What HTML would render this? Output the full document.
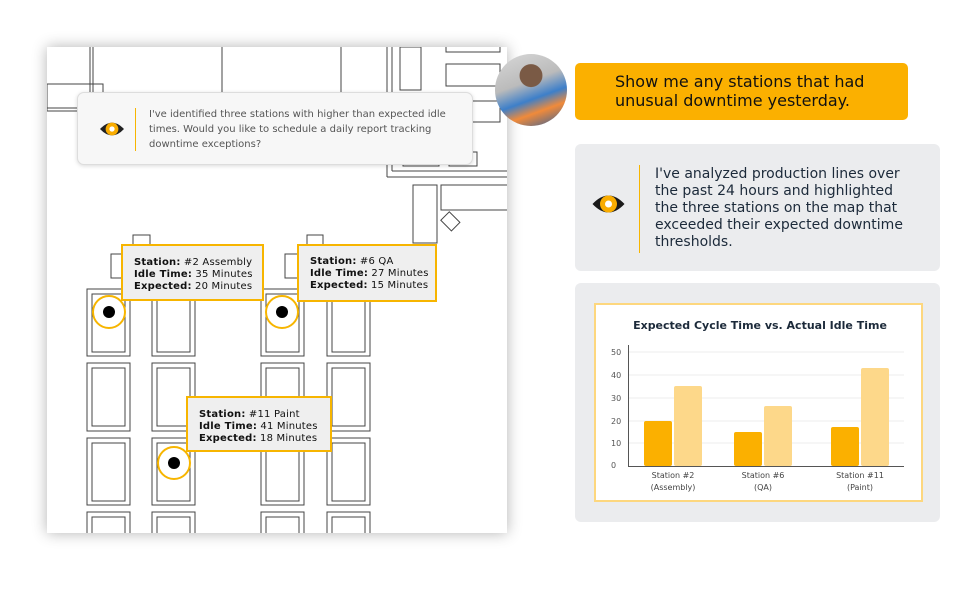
<!DOCTYPE html>
<html><head><meta charset="utf-8"><style>
body{margin:0;width:979px;height:592px;background:#fff;position:relative;overflow:hidden;font-family:"DejaVu Sans","Liberation Sans",sans-serif}
.abs{position:absolute}
.tip{position:absolute;background:#efefef;border:2px solid #f7b500;font-size:10px;line-height:12px;color:#111;padding:11px 0 0 11px;box-sizing:border-box;letter-spacing:0.2px}
.tip b{font-weight:bold}
</style></head><body>
<div class="abs" style="left:47px;top:47px;width:460px;height:486px;background:#fff;box-shadow:0 0 14px rgba(0,0,0,0.3)"></div>
<svg class="abs" style="left:0;top:0" width="979" height="592" viewBox="0 0 979 592">
<defs><clipPath id="c"><rect x="47" y="47" width="460" height="486"/></clipPath></defs>
<g clip-path="url(#c)" fill="none" stroke="#444" stroke-width="1">
<rect x="47" y="84" width="56" height="27"/><line x1="47" y1="108" x2="103" y2="108"/>
<line x1="90" y1="47" x2="90" y2="100"/><line x1="93" y1="47" x2="93" y2="100"/>
<line x1="222" y1="47" x2="222" y2="95"/><line x1="341" y1="47" x2="341" y2="95"/>
<line x1="387" y1="47" x2="387" y2="177"/><line x1="392" y1="47" x2="392" y2="171"/>
<line x1="387" y1="177" x2="507" y2="177"/><line x1="392" y1="171" x2="507" y2="171"/>
<rect x="400" y="47" width="21" height="43"/>
<rect x="446" y="44" width="54" height="8"/><rect x="446" y="64" width="54" height="22"/><rect x="446" y="101" width="54" height="21"/>
<rect x="403" y="150" width="36" height="16"/><rect x="449" y="152" width="28" height="14"/>
<rect x="413" y="185" width="24" height="58"/><rect x="441" y="185" width="70" height="25"/>
<rect x="443" y="215" width="15" height="12" transform="rotate(45 450 221)"/>
<rect x="133" y="235" width="17" height="14"/><rect x="307" y="235" width="16" height="14"/>
<rect x="111" y="254" width="19" height="24"/><rect x="285" y="254" width="16" height="24"/>
<g id="col">
<rect x="87" y="289" width="43" height="67"/><rect x="92" y="294" width="33" height="58"/>
<rect x="87" y="363" width="43" height="68"/><rect x="92" y="368" width="33" height="58"/>
<rect x="87" y="438" width="43" height="67"/><rect x="92" y="443" width="33" height="58"/>
<rect x="87" y="512" width="43" height="40"/><rect x="92" y="517" width="33" height="40"/>
</g>
<use href="#col" x="65"/><use href="#col" x="174"/><use href="#col" x="240"/>
</g>
<g fill="#fff" stroke="#f7b500" stroke-width="2"><circle cx="109" cy="312" r="16"/><circle cx="282" cy="312" r="16"/><circle cx="174" cy="463" r="16"/></g>
<g fill="#000"><circle cx="109" cy="312" r="6"/><circle cx="282" cy="312" r="6"/><circle cx="174" cy="463" r="6"/></g>
</svg>
<div class="abs" style="left:77px;top:92px;width:396px;height:73px;background:#f7f7f7;border:1px solid #ddd;border-radius:7px;box-shadow:0 1px 4px rgba(0,0,0,0.15);box-sizing:border-box"></div>
<svg class="abs" style="left:100px;top:118px" width="24" height="22" viewBox="0 0 32 22"><path d="M0 11 Q16 -6 32 11 Q16 28 0 11Z" fill="#222"/><circle cx="16" cy="11" r="8.5" fill="#f9ac00"/><circle cx="16" cy="11" r="3.5" fill="#fff"/></svg>
<div class="abs" style="left:135px;top:108px;width:1px;height:43px;background:#f7b500"></div>
<div class="abs" style="left:149px;top:107px;width:320px;font-size:10px;line-height:15px;color:#555">I've identified three stations with higher than expected idle times. Would you like to schedule a daily report tracking downtime exceptions?</div>
<div class="tip" style="left:121px;top:244px;width:143px;height:57px"><b>Station:</b> #2 Assembly<br><b>Idle Time:</b> 35 Minutes<br><b>Expected:</b> 20 Minutes</div>
<div class="tip" style="left:297px;top:244px;width:140px;height:58px;padding-top:10px"><b>Station:</b> #6 QA<br><b>Idle Time:</b> 27 Minutes<br><b>Expected:</b> 15 Minutes</div>
<div class="tip" style="left:186px;top:396px;width:146px;height:56px"><b>Station:</b> #11 Paint<br><b>Idle Time:</b> 41 Minutes<br><b>Expected:</b> 18 Minutes</div>
<div class="abs" style="left:495px;top:54px;width:72px;height:72px;border-radius:50%;background:radial-gradient(circle at 50% 30%,#7a5a45 0 18%,transparent 19%),linear-gradient(160deg,#d8d8d8 0%,#bbb 40%,#3d7fc9 60%,#f08a3a 75%,#2b5fa0 100%)"></div>
<div class="abs" style="left:575px;top:63px;width:333px;height:57px;background:#fbb000;border-radius:5px"></div>
<div class="abs" style="left:615px;top:72px;font-size:16px;line-height:19px;color:#111">Show me any stations that had<br>unusual downtime yesterday.</div>
<div class="abs" style="left:575px;top:144px;width:365px;height:127px;background:#ebecee;border-radius:6px"></div>
<svg class="abs" style="left:592px;top:193px" width="33" height="22" viewBox="0 0 32 22"><path d="M0 11 Q16 -6 32 11 Q16 28 0 11Z" fill="#1a1a1a"/><circle cx="16" cy="11" r="8.5" fill="#f9ac00"/><circle cx="16" cy="11" r="3.5" fill="#fff"/></svg>
<div class="abs" style="left:639px;top:165px;width:1px;height:88px;background:#f7b500"></div>
<div class="abs" style="left:655px;top:166px;font-size:14px;line-height:17px;color:#1c2a3a">I've analyzed production lines over<br>the past 24 hours and highlighted<br>the three stations on the map that<br>exceeded their expected downtime<br>thresholds.</div>
<div class="abs" style="left:575px;top:283px;width:365px;height:239px;background:#ebecee;border-radius:6px"></div>
<div class="abs" style="left:594px;top:303px;width:329px;height:199px;background:#fff;border:2px solid #fdd77e;box-sizing:border-box"></div>
<svg class="abs" style="left:0;top:0" width="979" height="592" viewBox="0 0 979 592" font-family="DejaVu Sans,sans-serif">
<text x="760" y="329" text-anchor="middle" font-size="11" font-weight="bold" fill="#1c2a3a">Expected Cycle Time vs. Actual Idle Time</text>
<g stroke="#eee"><line x1="628" x2="904" y1="352" y2="352"/><line x1="628" x2="904" y1="375" y2="375"/><line x1="628" x2="904" y1="398" y2="398"/><line x1="628" x2="904" y1="421" y2="421"/><line x1="628" x2="904" y1="443" y2="443"/></g>
<g font-size="8" fill="#555"><text x="611" y="355">50</text><text x="611" y="378">40</text><text x="611" y="401">30</text><text x="611" y="424">20</text><text x="611" y="446">10</text><text x="611" y="468">0</text></g>
<g fill="#fbb000"><rect x="644" y="421" width="28" height="45" rx="2"/><rect x="734" y="432" width="28" height="34" rx="2"/><rect x="831" y="427" width="28" height="39" rx="2"/></g>
<g fill="#fdd88a"><rect x="674" y="386" width="28" height="80" rx="2"/><rect x="764" y="406" width="28" height="60" rx="2"/><rect x="861" y="368" width="28" height="98" rx="2"/></g>
<line x1="628.5" y1="345" x2="628.5" y2="466" stroke="#555"/><line x1="628" y1="466.5" x2="904" y2="466.5" stroke="#555"/>
<g font-size="8" fill="#444" text-anchor="middle"><text x="673" y="478">Station #2</text><text x="673" y="490">(Assembly)</text><text x="763" y="478">Station #6</text><text x="763" y="490">(QA)</text><text x="860" y="478">Station #11</text><text x="860" y="490">(Paint)</text></g>
</svg>
</body></html>
